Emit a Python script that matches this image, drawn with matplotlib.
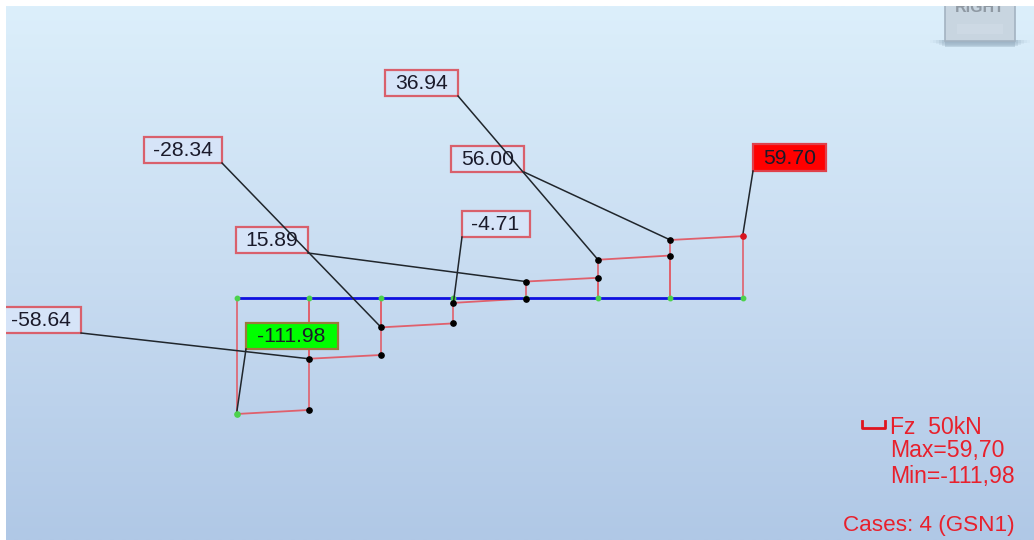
import numpy as np
import matplotlib
matplotlib.use("Agg")
import matplotlib.pyplot as plt
from matplotlib.patches import Rectangle
from matplotlib.colors import LinearSegmentedColormap
from matplotlib.transforms import Affine2D

plt.rcParams['font.family'] = ['Liberation Sans', 'DejaVu Sans']

# Data: Fz at the start and end of each beam segment (kN)
seg_start = [-111.98, -58.64, -28.34, -4.71, 15.89, 36.94, 56.00]
seg_end = [-108.1, -55.0, -24.5, -0.5, 19.5, 41.0, 59.70]
nodes = list(range(8))
label_text = ["-111.98", "-58.64", "-28.34", "-4.71", "15.89", "36.94", "56.00", "59.70"]
label_node = [0, 1, 2, 3, 4, 5, 6, 7]
label_value = [-111.98, -58.64, -28.34, -4.71, 15.89, 36.94, 56.00, 59.70]
legend_lines = ["Fz  50kN", "Max=59,70", "Min=-111,98"]
cases_text = "Cases: 4 (GSN1)"

W, H = 1034, 540
fig = plt.figure(figsize=(W / 100, H / 100), dpi=100, facecolor="white")

# pixel-space transform (origin at the top left)
px = Affine2D().scale(1 / W, -1 / H).translate(0, 1) + fig.transFigure

# background gradient
bg = fig.add_axes([0, 0, 1, 1], zorder=0)
cmap = LinearSegmentedColormap.from_list(
    "bg", [(0, "#DCEFFB"), (0.5, "#C8DCF1"), (1, "#B0C8E6")])
bg.imshow(np.linspace(0, 1, 256).reshape(-1, 1), aspect="auto", cmap=cmap,
          extent=(6, W, H, 6), interpolation="bilinear")
bg.set_xlim(0, W)
bg.set_ylim(H, 0)
bg.axis("off")

# view button, cut by the top edge of the picture, with a soft shadow below it
for grow, a in zip([0, 3, 6, 9, 12, 15], [0.30, 0.20, 0.14, 0.09, 0.06, 0.04]):
    bg.add_patch(Rectangle((945 - grow, 40), 70 + 2 * grow, 7 - grow * 0.3, fc="#7F98AC",
                           ec="none", alpha=a, zorder=1))
bg.add_patch(Rectangle((945, 0), 70, 41, fc="#C8D5E0", ec="#A3B3C1", lw=1.2, zorder=2))
bg.add_patch(Rectangle((957, 24), 46, 10, fc="#CDD9E4", ec="none", zorder=2.1))
bg.text(980, 7, "RIGHT", ha="center", va="center", fontsize=11.5,
        fontweight="bold", color="#8F99A3", zorder=3)
bg.add_patch(Rectangle((0, 0), W, 6, fc="white", ec="none", zorder=4))

# main axes: x in node index, y in kN
x0, dx, y0, k = 236.5, 72.3, 298.0, 1.036
ax = fig.add_axes([0, 0, 1, 1], zorder=1)
ax.patch.set_alpha(0)
ax.set_xlim((0 - x0) / dx, (W - x0) / dx)
ax.set_ylim((y0 - H) / k, y0 / k)
ax.axis("off")

RED = "#E0606C"
for i in range(len(seg_start)):
    ax.plot([nodes[i], nodes[i + 1]], [seg_start[i], seg_end[i]], color=RED, lw=1.3, zorder=3)
    ax.plot([nodes[i], nodes[i]], [0, seg_start[i]], color=RED, lw=1.2, zorder=3)
    ax.plot([nodes[i + 1], nodes[i + 1]], [0, seg_end[i]], color=RED, lw=1.2, zorder=3)

ax.plot([nodes[0], nodes[-1]], [0, 0], color="#0F10E0", lw=2.0, zorder=4)
ax.plot(nodes, [0] * len(nodes), ls="none", marker="o", ms=3.2, color="#4CD24C", zorder=5)

ax.plot(nodes[1:-1], seg_start[1:], ls="none", marker="o", ms=3.8, color="black", zorder=7)
ax.plot(nodes[1:-1], seg_end[:-1], ls="none", marker="o", ms=3.8, color="black", zorder=7)
ax.plot(nodes[0], seg_start[0], marker="o", ms=3.8, color="#4CD24C", zorder=7)
ax.plot(nodes[-1], seg_end[-1], marker="o", ms=3.8, color="#D8141E", zorder=7)

# label boxes: left, top, right, bottom in pixels, plus the corner the leader leaves from
boxes = [(246, 323, 338, 349), (-4, 307, 81, 333), (144, 137, 222, 163), (462, 211, 530, 237),
         (236, 227, 308, 253), (385, 70, 458, 96), (451, 146, 524, 172), (753, 144, 826, 171)]
text_x = [291.5, 41, 183, 495, 272, 421.5, 487.5, 789.5]
corner_left = [True, False, False, True, False, False, False, True]
faces = {"-111.98": "#00FF00", "59.70": "#FF0000"}
edges = {"-111.98": "#9C7A3A", "59.70": "#E0404A"}

for txt, n, v, b, cl, tx in zip(label_text, label_node, label_value, boxes, corner_left, text_x):
    l, t, r, bt = b
    ax.add_patch(Rectangle((l, t), r - l, bt - t, transform=px, fc=faces.get(txt, "#D6E4F8"),
                           ec=edges.get(txt, "#D9606C"), lw=1.6, zorder=6))
    ax.text(tx, (t + bt) / 2 + 0.5, txt, transform=px, ha="center", va="center",
            fontsize=15.2, color="#1A1A2A", zorder=8)
    start = ax.transData.inverted().transform(px.transform((l if cl else r, bt)))
    ax.plot([start[0], n], [start[1], v], color="#20262C", lw=1.1, zorder=6.5)

# legend
TXT = "#E8202C"
ax.plot([862, 862, 885, 885], [421, 427.5, 427.5, 421], transform=px, color="#E0141E", lw=2, zorder=8)
for s, y in zip(legend_lines, [428, 451, 476]):
    ax.text(890, y, s, transform=px, ha="left", va="center", fontsize=16.6, color=TXT, zorder=8)
ax.text(843, 526, cases_text, transform=px, ha="left", va="center", fontsize=16.2, color=TXT, zorder=8)

# white margin on the left of the picture
ax.add_patch(Rectangle((0, 0), 6, H, transform=px, fc="white", ec="none", zorder=20))

fig.savefig("out.png", dpi=100)
